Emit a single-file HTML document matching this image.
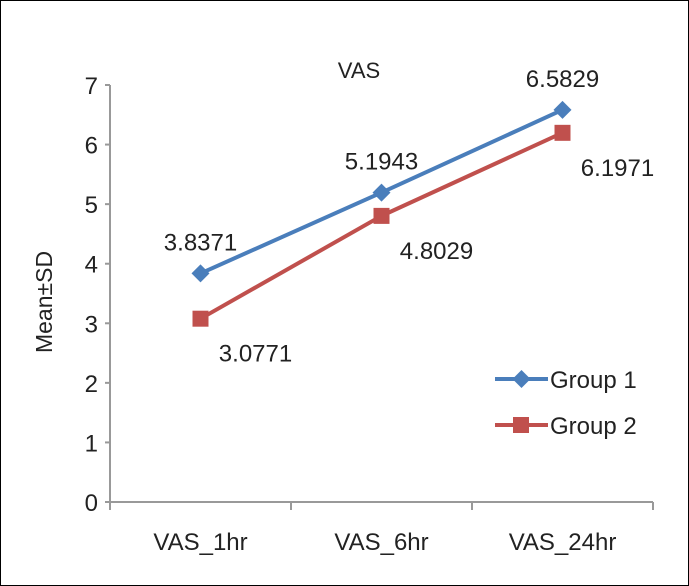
<!DOCTYPE html>
<html><head><meta charset="utf-8"><style>
body{margin:0;background:#fff;}
svg{display:block;font-family:"Liberation Sans",sans-serif;}
</style></head><body>
<svg id="chart" width="689" height="586">
<rect x="0.5" y="0.5" width="688" height="585" fill="#fff" stroke="#000"/>
<text x="359" y="78" font-size="22" text-anchor="middle" fill="#222">VAS</text>
<text transform="translate(52,302) rotate(-90)" font-size="23" text-anchor="middle" fill="#222">Mean±SD</text>
<g id="axes"></g>
<g id="series"></g>
<g>
<line x1="495" y1="379" x2="548" y2="379" stroke="#4a7ebb" stroke-width="4"/>
<path d="M521.5 370 L530.5 379 L521.5 388 L512.5 379Z" fill="#4a7ebb"/>
<text x="550" y="388" font-size="24" fill="#222">Group 1</text>
<line x1="495" y1="425" x2="548" y2="425" stroke="#c0504d" stroke-width="4"/>
<rect x="513" y="417" width="16" height="16" fill="#c0504d"/>
<text x="550" y="434" font-size="24" fill="#222">Group 2</text>
</g>
</svg>
<script>
const categories=["VAS_1hr","VAS_6hr","VAS_24hr"];
const group1=[3.8371,5.1943,6.5829];
const group2=[3.0771,4.8029,6.1971];
const yTicks=[0,1,2,3,4,5,6,7];
const NS="http://www.w3.org/2000/svg";
const x0=110,x1=653,yBase=502,yTop=85,yMax=7;
const step=(x1-x0)/categories.length;
const xPos=i=>x0+step*(i+0.5);
const yPos=v=>yBase-(v/yMax)*(yBase-yTop);
function mk(tag,attrs,parent){const e=document.createElementNS(NS,tag);for(const k in attrs)e.setAttribute(k,attrs[k]);parent.appendChild(e);return e;}
const axes=document.getElementById('axes');
const ya=mk('line',{x1:x0,y1:yTop,x2:x0,y2:yBase,stroke:'#999','stroke-width':2},axes);


const xa=mk('line',{x1:x0-5,y1:yBase,x2:x1,y2:yBase,stroke:'#999','stroke-width':2},axes);


yTicks.forEach(t=>{
  const y=yPos(t);
  mk('line',{x1:x0-5,y1:y,x2:x0,y2:y,stroke:'#999','stroke-width':2},axes);
  const tx=mk('text',{x:x0-12,y:y+9,'font-size':24,'text-anchor':'end',fill:'#222'},axes);
  tx.textContent=t;
  
  
});
for(let i=0;i<=categories.length;i++){
  const x=x0+step*i;
  mk('line',{x1:x,y1:yBase,x2:x,y2:yBase+8,stroke:'#999','stroke-width':2},axes);
}
categories.forEach((c,i)=>{
  const tx=mk('text',{x:xPos(i),y:550,'font-size':24,'text-anchor':'middle',fill:'#222'},axes);
  tx.textContent=c;
  
  
});
const ser=document.getElementById('series');
function drawSeries(vals,color,name,shape,labelDx,labelDy){
  const pts=vals.map((v,i)=>xPos(i)+','+yPos(v)).join(' ');
  const pl=mk('polyline',{points:pts,fill:'none',stroke:color,'stroke-width':4},ser);
  
  
  vals.forEach((v,i)=>{
    const x=xPos(i),y=yPos(v);let m;
    if(shape==='diamond')m=mk('path',{d:`M${x} ${y-9} L${x+9} ${y} L${x} ${y+9} L${x-9} ${y}Z`,fill:color},ser);
    else m=mk('rect',{x:x-8,y:y-8,width:16,height:16,fill:color},ser);
    
    
    const t=mk('text',{x:x+labelDx,y:y+labelDy,'font-size':24,'text-anchor':'middle',fill:'#222'},ser);
    t.textContent=v.toFixed(4);
    
    
  });
}
drawSeries(group1,'#4a7ebb','group-1','diamond',0,-23);
drawSeries(group2,'#c0504d','group-2','square',55,43);
</script>
</body></html>
